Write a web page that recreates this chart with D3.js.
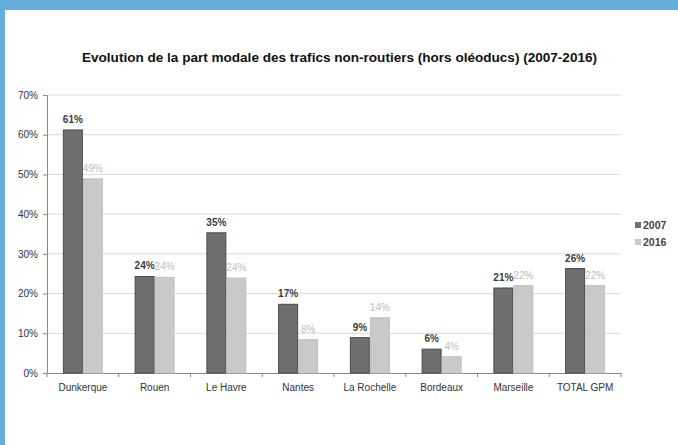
<!DOCTYPE html>
<html>
<head>
<meta charset="utf-8">
<script src="https://cdn.jsdelivr.net/npm/d3@7"></script>
<style>
  body { margin: 0; background: #fff; }
  svg { display: block; font-family: 'Liberation Sans', Arial, sans-serif; }
</style>
</head>
<body>
<div id="chart"></div>
<script>
const categories = ['Dunkerque', 'Rouen', 'Le Havre', 'Nantes', 'La Rochelle', 'Bordeaux', 'Marseille', 'TOTAL GPM'];
const series = ['2007', '2016'];
const values2007 = [61.2, 24.3, 35.3, 17.3, 8.9, 6.0, 21.4, 26.3];
const values2016 = [48.9, 24.1, 23.9, 8.4, 13.9, 4.1, 22.0, 22.0];
const yTicks = [0, 10, 20, 30, 40, 50, 60, 70];

const width = 678, height = 445;
const margin = { top: 95, bottom: 72, left: 47, right: 57 };

const colors = { '2007': '#6f6f6f', '2016': '#c9c9c9' };
const strokes = { '2007': '#4a4a4a', '2016': '#c0c0c0' };
const labelColors = { '2007': '#3c3c3c', '2016': '#bdbdbd' };

const svg = d3.select('#chart').append('svg')
  .attr('width', width)
  .attr('height', height);

// blue frame
svg.append('rect').attr('x', 0).attr('y', 0).attr('width', width).attr('height', 10).attr('fill', '#66aedb');
svg.append('rect').attr('x', 0).attr('y', 0).attr('width', 5).attr('height', height).attr('fill', '#66aedb');

svg.append('text')
  .attr('x', 82)
  .attr('y', 62)
  .attr('textLength', 515)
  .attr('lengthAdjust', 'spacingAndGlyphs')
  .style('font-size', '12px')
  .style('font-weight', 'bold')
  .style('fill', '#111')
  .text('Evolution de la part modale des trafics non-routiers (hors oléoducs) (2007-2016)');

const innerW = width - margin.left - margin.right;
const innerH = height - margin.top - margin.bottom;

const chartArea = svg.append('g')
  .attr('transform', `translate(${margin.left},${margin.top})`);

const xScale = d3.scaleBand().domain(categories).range([0, innerW]);
const yScale = d3.scaleLinear().domain([0, 70]).range([innerH, 0]);
const barW = 20;

// gridlines
chartArea.append('g')
  .selectAll('line')
  .data(yTicks.filter(d => d > 0))
  .enter().append('line')
  .attr('x1', 0).attr('x2', innerW)
  .attr('y1', d => yScale(d)).attr('y2', d => yScale(d))
  .style('stroke', '#dadada');

// y axis
const yAxisG = chartArea.append('g')
  .call(d3.axisLeft(yScale).tickValues(yTicks).tickSize(4).tickPadding(5).tickFormat(d => d + '%'));

// x axis with ticks at category boundaries
const xAxisG = chartArea.append('g')
  .attr('transform', `translate(0,${innerH})`)
  .call(d3.axisBottom(xScale).tickSize(0).tickPadding(11));

xAxisG.selectAll('.boundary')
  .data(d3.range(categories.length + 1))
  .enter().append('line')
  .classed('boundary', true)
  .attr('x1', i => i * xScale.step()).attr('x2', i => i * xScale.step())
  .attr('y1', 0).attr('y2', 4)
  .style('stroke', '#888');

svg.selectAll('.domain').style('stroke', '#888');
svg.selectAll('.tick line').style('stroke', '#888');
svg.selectAll('.tick text')
  .style('font-family', "'Liberation Sans', Arial, sans-serif")
  .style('font-size', '10px')
  .style('fill', '#333');

const seriesData = [
  { key: '2007', values: values2007, offset: -barW },
  { key: '2016', values: values2016, offset: 0 }
];

seriesData.forEach(s => {
  const rows = categories.map((c, i) => ({ c, v: s.values[i] }));
  const g = chartArea.append('g').classed('bars', true);

  g.selectAll('rect')
    .data(rows)
    .enter().append('rect')
    .attr('x', d => xScale(d.c) + xScale.bandwidth() / 2 + s.offset + 0.5)
    .attr('y', d => yScale(d.v))
    .attr('width', barW - 1)
    .attr('height', d => yScale(0) - yScale(d.v))
    .style('fill', colors[s.key])
    .style('stroke', strokes[s.key])
    .style('stroke-width', 1);

  g.selectAll('text')
    .data(rows)
    .enter().append('text')
    .attr('x', d => xScale(d.c) + xScale.bandwidth() / 2 + s.offset + barW / 2)
    .attr('y', d => yScale(d.v) - 7)
    .attr('text-anchor', 'middle')
    .style('font-size', '10px')
    .style('font-weight', s.key === '2007' ? 'bold' : 'normal')
    .style('fill', labelColors[s.key])
    .text(d => Math.round(d.v) + '%');
});

// legend
const legend = svg.append('g').attr('transform', 'translate(635,222)');
series.forEach((k, i) => {
  legend.append('rect')
    .attr('x', 0).attr('y', i * 17)
    .attr('width', 6).attr('height', 6)
    .style('fill', colors[k]);
  legend.append('text')
    .attr('x', 8).attr('y', i * 17 + 7)
    .style('font-size', '10.5px')
    .style('font-weight', 'bold')
    .style('fill', '#444')
    .text(k);
});
</script>
</body>
</html>
